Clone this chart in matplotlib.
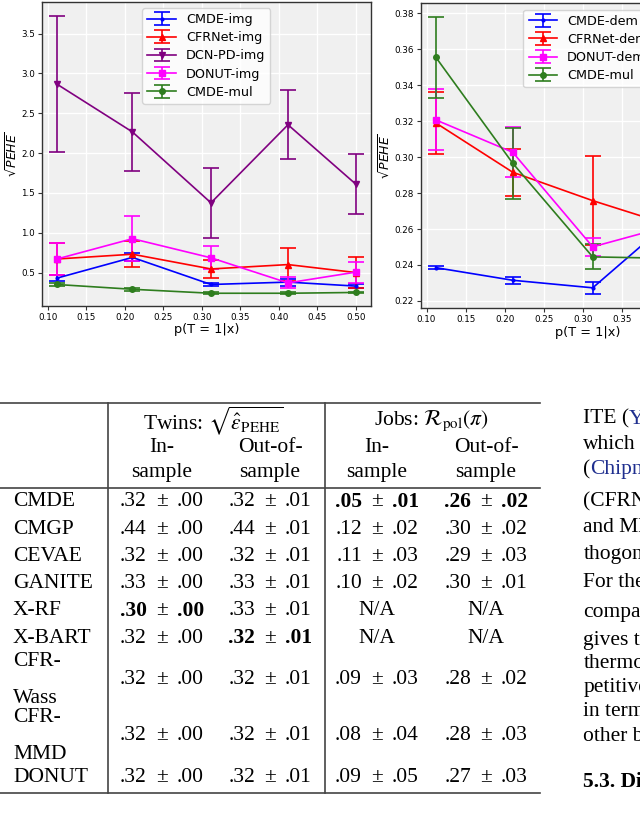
import matplotlib
matplotlib.use("Agg")
import matplotlib.pyplot as plt
from matplotlib.lines import Line2D

plt.rcParams['mathtext.fontset'] = 'stix'

# ---------------- data: left plot (image covariates) ----------------
p_treat = [0.112, 0.21, 0.312, 0.412, 0.50]
cmde_img = [0.43, 0.69, 0.35, 0.38, 0.33]
cmde_img_err = [0.04, 0.05, 0.02, 0.045, 0.03]
cfrnet_img = [0.67, 0.73, 0.545, 0.60, 0.50]
cfrnet_img_err = [0.20, 0.16, 0.11, 0.21, 0.19]
dcnpd_img = [2.865, 2.265, 1.375, 2.355, 1.61]
dcnpd_img_err = [0.85, 0.495, 0.44, 0.435, 0.38]
donut_img = [0.67, 0.925, 0.685, 0.37, 0.505]
donut_img_err = [0.20, 0.28, 0.145, 0.07, 0.13]
cmde_mul_l = [0.35, 0.29, 0.24, 0.24, 0.25]
cmde_mul_l_err = [0.02, 0.02, 0.01, 0.01, 0.01]

# ---------------- data: right plot (demographic covariates) ----------------
p_treat_r = [0.112, 0.21, 0.312, 0.412]
cmde_dem = [0.2385, 0.2315, 0.2273, 0.265]
cmde_dem_err = [0.0008, 0.002, 0.0032, 0.003]
cfrnet_dem = [0.319, 0.2916, 0.2758, 0.262]
cfrnet_dem_err = [0.0175, 0.0132, 0.0246, 0.01]
donut_dem = [0.3207, 0.3027, 0.2501, 0.262]
donut_dem_err = [0.017, 0.014, 0.005, 0.01]
cmde_mul_r = [0.3555, 0.2966, 0.2445, 0.2437]
cmde_mul_r_err = [0.0227, 0.0197, 0.007, 0.005]

left_ticks_y = [0.5, 1.0, 1.5, 2.0, 2.5, 3.0, 3.5]
right_ticks_y = [0.22, 0.24, 0.26, 0.28, 0.30, 0.32, 0.34, 0.36, 0.38]
x_ticks = [0.10, 0.15, 0.20, 0.25, 0.30, 0.35, 0.40, 0.45, 0.50]

# ---------------- data: table ----------------
methods = ["CMDE", "CMGP", "CEVAE", "GANITE", "X-RF", "X-BART", "CFR-\nWass", "CFR-\nMMD", "DONUT"]
twins_in_mean = [.32, .44, .32, .33, .30, .32, .32, .32, .32]
twins_in_std = [.00, .00, .00, .00, .00, .00, .00, .00, .00]
twins_out_mean = [.32, .44, .32, .33, .33, .32, .32, .32, .32]
twins_out_std = [.01, .01, .01, .01, .01, .01, .01, .01, .01]
jobs_in_mean = [.05, .12, .11, .10, None, None, .09, .08, .09]
jobs_in_std = [.01, .02, .03, .02, None, None, .03, .04, .05]
jobs_out_mean = [.26, .30, .29, .30, None, None, .28, .28, .27]
jobs_out_std = [.02, .02, .03, .01, None, None, .02, .03, .03]
bold_cells = {(0, 2), (0, 3), (4, 0), (5, 1)}

side_text = [("ITE (", "Yoon et al."), ("which", ""), ("(", "Chipman"), ("(CFRNet)", ""),
             ("and MMD", ""), ("thogonal", ""), ("For the", ""), ("compared", ""),
             ("gives the", ""), ("thermore", ""), ("petitive", ""), ("in terms", ""),
             ("other baselines", "")]

W, H = 640, 817
fig = plt.figure(figsize=(W / 100, H / 100), dpi=100)
fig.patch.set_facecolor('white')


def fx(x):
    return x / W


def fy(y):
    return 1 - y / H


def style_axes(ax):
    ax.set_facecolor('#F0F0F0')
    ax.grid(True, color='white', linewidth=1.0)
    ax.set_axisbelow(True)
    for s in ax.spines.values():
        s.set_color('#333333')
        s.set_linewidth(1.0)
    ax.tick_params(labelsize=6.3, length=3, width=0.8, color='#333333', pad=2)


ekw = dict(capsize=6, linewidth=1.2, elinewidth=1.2, capthick=1.2, markersize=4)

# left axes
ax1 = fig.add_axes([fx(42), fy(306), fx(328.7), 304.3 / H])
style_axes(ax1)
ax1.errorbar(p_treat, cmde_img, yerr=cmde_img_err, color='blue', marker='.', label='CMDE-img', **ekw)
ax1.errorbar(p_treat, cfrnet_img, yerr=cfrnet_img_err, color='red', marker='^', label='CFRNet-img', **ekw)
ax1.errorbar(p_treat, dcnpd_img, yerr=dcnpd_img_err, color='purple', marker='v', label='DCN-PD-img', **ekw)
ax1.errorbar(p_treat, donut_img, yerr=donut_img_err, color='magenta', marker='s', label='DONUT-img', **ekw)
ax1.errorbar(p_treat, cmde_mul_l, yerr=cmde_mul_l_err, color='#2E7D1E', marker='o', label='CMDE-mul', **ekw)
ax1.set_xlim(0.0926, 0.5194)
ax1.set_ylim(0.08, 3.9)
ax1.set_xticks(x_ticks)
ax1.set_xticklabels([f"{v:.2f}" for v in x_ticks])
ax1.set_yticks(left_ticks_y)
ax1.set_yticklabels([f"{v:.1f}" for v in left_ticks_y])
ax1.set_xlabel("p(T = 1|x)", fontsize=9.3, labelpad=1)
ax1.set_ylabel(r"$\sqrt{PEHE}$", fontsize=9, labelpad=1, math_fontfamily='dejavusans')
ax1.legend(loc='upper center', fontsize=9.2, framealpha=0.8, borderpad=0.4, handlelength=2.2,
           labelspacing=0.4, fancybox=True)

# right axes (extends beyond the cropped page)
ax2 = fig.add_axes([fx(420.7), fy(308.3), fx(334.6), 305 / H])
style_axes(ax2)
ax2.errorbar(p_treat_r, cmde_dem, yerr=cmde_dem_err, color='blue', marker='.', label='CMDE-dem', **ekw)
ax2.errorbar(p_treat_r, cfrnet_dem, yerr=cfrnet_dem_err, color='red', marker='^', label='CFRNet-dem', **ekw)
ax2.errorbar(p_treat_r, donut_dem, yerr=donut_dem_err, color='magenta', marker='s', label='DONUT-dem', **ekw)
ax2.errorbar(p_treat_r, cmde_mul_r, yerr=cmde_mul_r_err, color='#2E7D1E', marker='o', label='CMDE-mul', **ekw)
ax2.set_xlim(0.0926, 0.5194)
ax2.set_ylim(0.2159, 0.3856)
ax2.set_xticks(x_ticks)
ax2.set_xticklabels([f"{v:.2f}" for v in x_ticks])
ax2.set_yticks(right_ticks_y)
ax2.set_yticklabels([f"{v:.2f}" for v in right_ticks_y])
ax2.set_xlabel("p(T = 1|x)", fontsize=9.3, labelpad=1)
ax2.set_ylabel(r"$\sqrt{PEHE}$", fontsize=9, labelpad=1, math_fontfamily='dejavusans')
ax2.legend(loc='upper center', fontsize=9.2, framealpha=0.8, borderpad=0.4, handlelength=2.2,
           labelspacing=0.4, fancybox=True)

# ---------------- table ----------------
serif = 'Liberation Serif'
fs = 15.5
tkw = dict(fontsize=fs, family=serif, color='black')

line_kw = dict(color='#444444', linewidth=1.2)
x_left, x_right = 0, 540
y_top, y_head, y_bot = 403.3, 488.3, 792.7
for yy in (y_top, y_head, y_bot):
    fig.add_artist(Line2D([fx(x_left), fx(x_right)], [fy(yy), fy(yy)], transform=fig.transFigure, **line_kw))
for xx in (108.3, 324.7):
    fig.add_artist(Line2D([fx(xx), fx(xx)], [fy(y_top), fy(y_bot)], transform=fig.transFigure, **line_kw))

col_x = [161.7, 270, 377, 486]
fig.text(fx(213), fy(421), r"Twins: $\sqrt{\hat{\epsilon}_{\mathrm{PEHE}}}$", ha='center', va='center', **tkw)
fig.text(fx(431), fy(421), r"Jobs: $\mathcal{R}_{\mathrm{pol}}(\pi)$", ha='center', va='center', **tkw)
for cx, lab in zip(col_x, ["In-", "Out-of-", "In-", "Out-of-"]):
    fig.text(fx(cx), fy(447.5), lab, ha='center', va='center', **tkw)
    fig.text(fx(cx), fy(472.5), "sample", ha='center', va='center', **tkw)

single_h, double_h = 27.3, 56.0
heights = [double_h if "\n" in m else single_h for m in methods]
y_c = 501.7
centers = []
for i, h in enumerate(heights):
    if i > 0:
        y_c += heights[i - 1] / 2 + h / 2
    centers.append(y_c)

pm_gap = 15.0
cols = [(twins_in_mean, twins_in_std), (twins_out_mean, twins_out_std),
        (jobs_in_mean, jobs_in_std), (jobs_out_mean, jobs_out_std)]
for i, (m, yc) in enumerate(zip(methods, centers)):
    parts = m.split("\n")
    if len(parts) == 1:
        fig.text(fx(13), fy(yc), m, ha='left', va='center', **tkw)
    else:
        fig.text(fx(13), fy(yc - 18.3), parts[0], ha='left', va='center', **tkw)
        fig.text(fx(13), fy(yc + 18.3), parts[1], ha='left', va='center', **tkw)
    for j, (mean, std) in enumerate(cols):
        cx = col_x[j]
        if mean[i] is None:
            fig.text(fx(cx), fy(yc), "N/A", ha='center', va='center', **tkw)
            continue
        w = 'bold' if (i, j) in bold_cells else 'normal'
        fig.text(fx(cx - pm_gap), fy(yc), f".{round(mean[i] * 100):02d}", ha='right', va='center',
                 fontweight=w, **tkw)
        fig.text(fx(cx), fy(yc), "\u00b1", ha='center', va='center', **tkw)
        fig.text(fx(cx + pm_gap), fy(yc), f".{round(std[i] * 100):02d}", ha='left', va='center',
                 fontweight=w, **tkw)

# ---------------- side text column ----------------
fig.canvas.draw()
renderer = fig.canvas.get_renderer()
side_y = [419, 444, 470, 501.7, 527, 555, 582.7, 613, 640, 663, 687.5, 711.7, 736.7]
for (black, blue), yy in zip(side_text, side_y):
    t = fig.text(fx(583.3), fy(yy), black, ha='left', va='center', **tkw)
    if blue:
        bb = t.get_window_extent(renderer)
        fig.text(bb.x1 / W, fy(yy), blue, ha='left', va='center', fontsize=fs, family=serif,
                 color='#1F2F8F')
fig.text(fx(583.3), fy(781.7), "5.3. Discussion", ha='left', va='center', fontweight='bold', **tkw)

fig.savefig("out.png", dpi=100)
